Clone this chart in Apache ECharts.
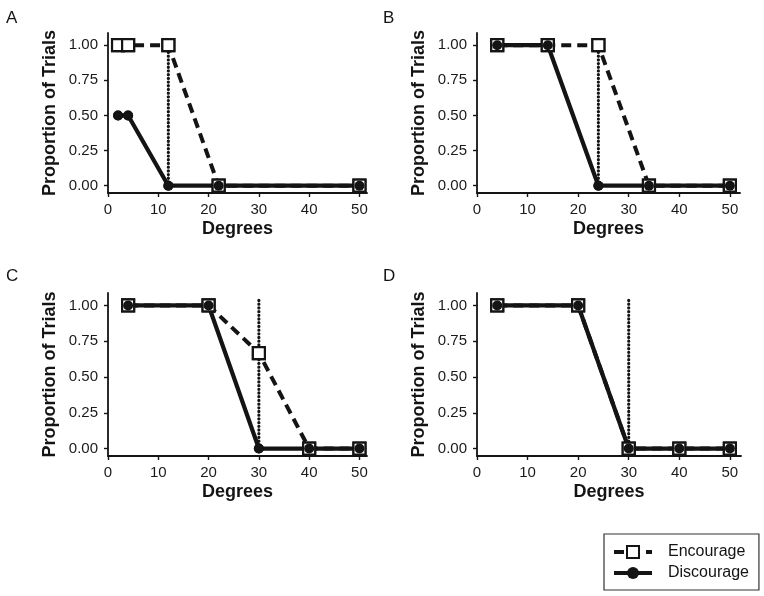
<!DOCTYPE html>
<html>
<head>
<meta charset="utf-8">
<script src="https://cdn.jsdelivr.net/npm/echarts@6/dist/echarts.min.js"></script>
<style>
  html, body { margin: 0; padding: 0; background: #fff; }
  #main { width: 764px; height: 596px; }
</style>
</head>
<body>
<div id="main"></div>
<script>
// 数据
var panelLetters = ['A', 'B', 'C', 'D'];
var degA = [2, 4, 12, 22, 50];
var degB = [4, 14, 24, 34, 50];
var degC = [4, 20, 30, 40, 50];
var degD = [4, 20, 30, 40, 50];
var encA = [1, 1, 1, 0, 0];
var disA = [0.5, 0.5, 0, 0, 0];
var encB = [1, 1, 1, 0, 0];
var disB = [1, 1, 0, 0, 0];
var encC = [1, 1, 0.667, 0, 0];
var disC = [1, 1, 0, 0, 0];
var encD = [1, 1, 0, 0, 0];
var disD = [1, 1, 0, 0, 0];
var thresholds = [12, 24, 30, 30];
var thresholdTop = 1.035;
var xTicks = [0, 10, 20, 30, 40, 50];
var yTicks = [0, 0.25, 0.5, 0.75, 1];

var degs = [degA, degB, degC, degD];
var encs = [encA, encB, encC, encD];
var diss = [disA, disB, disC, disD];

// 布局
var grids = [
    { left: 108, top: 33, width: 259, height: 160 },
    { left: 477, top: 33, width: 263, height: 160 },
    { left: 108, top: 293, width: 259, height: 163 },
    { left: 477, top: 293, width: 264, height: 163 }
];
var xMax = [51.5, 52, 51.5, 52.2];
var letterPos = [[6, 10], [383, 10], [6, 268], [383, 268]];

var ink = '#141414';
var font = 'Liberation Sans, Arial, Helvetica, sans-serif';

function pairs(xs, ys) {
    var out = [];
    for (var i = 0; i < xs.length; i++) out.push([xs[i], ys[i]]);
    return out;
}

var xAxes = [], yAxes = [], series = [], graphics = [];
for (var p = 0; p < 4; p++) {
    xAxes.push({
        type: 'value', gridIndex: p, min: 0, max: xMax[p],
        name: 'Degrees', nameLocation: 'middle', nameGap: 27,
        nameTextStyle: { fontFamily: font, fontSize: 18, fontWeight: 'bold', color: ink },
        axisLine: { show: true, onZero: false, lineStyle: { color: ink, width: 1.8 } },
        axisTick: { show: true, length: 4, customValues: xTicks, lineStyle: { color: ink, width: 1.4 } },
        axisLabel: { customValues: xTicks, margin: 9, fontFamily: font, fontSize: 15, color: '#1a1a1a' },
        splitLine: { show: false }
    });
    yAxes.push({
        type: 'value', gridIndex: p, min: -0.052, max: 1.087,
        name: 'Proportion of Trials', nameLocation: 'middle', nameGap: 49,
        nameTextStyle: { fontFamily: font, fontSize: 18, fontWeight: 'bold', color: ink },
        axisLine: { show: true, onZero: false, lineStyle: { color: ink, width: 1.8 } },
        axisTick: { show: true, length: 4, customValues: yTicks, lineStyle: { color: ink, width: 1.4 } },
        axisLabel: {
            customValues: yTicks, margin: 10, fontFamily: font, fontSize: 15, color: '#1a1a1a',
            formatter: function (v) { return v.toFixed(2); }
        },
        splitLine: { show: false }
    });
    // 阈值虚线
    series.push({
        type: 'line', name: 'threshold', xAxisIndex: p, yAxisIndex: p, z: 1,
        data: [[thresholds[p], 0], [thresholds[p], thresholdTop]],
        symbol: 'none', silent: true,
        lineStyle: { color: ink, width: 3.2, type: [0.1, 3.6], cap: 'round' }
    });
    series.push({
        type: 'line', name: 'Encourage', xAxisIndex: p, yAxisIndex: p, z: 2,
        data: pairs(degs[p], encs[p]),
        symbol: 'rect', symbolSize: 12,
        itemStyle: { color: '#fff', borderColor: ink, borderWidth: 2.2 },
        lineStyle: { color: ink, width: 4, type: [10, 6] }
    });
    series.push({
        type: 'line', name: 'Discourage', xAxisIndex: p, yAxisIndex: p, z: 2,
        data: pairs(degs[p], diss[p]),
        symbol: 'circle', symbolSize: 10,
        itemStyle: { color: ink, borderColor: ink, borderWidth: 0 },
        lineStyle: { color: ink, width: 4.2 }
    });
    // 点在线之上
    series.push({
        type: 'scatter', name: 'encPts', xAxisIndex: p, yAxisIndex: p, z: 3,
        data: pairs(degs[p], encs[p]),
        symbol: 'rect', symbolSize: 12,
        itemStyle: { color: '#fff', borderColor: ink, borderWidth: 2.2, opacity: 1 }
    });
    series.push({
        type: 'scatter', name: 'disPts', xAxisIndex: p, yAxisIndex: p, z: 4,
        data: pairs(degs[p], diss[p]),
        symbol: 'circle', symbolSize: 10,
        itemStyle: { color: ink, opacity: 1 }
    });
    graphics.push({
        type: 'text', left: letterPos[p][0], top: letterPos[p][1],
        style: { text: panelLetters[p], fontFamily: font, fontSize: 17, fill: ink }
    });
}

var chart = echarts.init(document.getElementById('main'), null, { renderer: 'canvas' });
chart.setOption({
    animation: false,
    backgroundColor: '#fff',
    grid: grids,
    xAxis: xAxes,
    yAxis: yAxes,
    series: series,
    graphic: graphics,
    legend: {
        data: ['Encourage', 'Discourage'],
        orient: 'vertical',
        left: 604, top: 534,
        padding: [10, 10, 9, 8],
        itemWidth: 38, itemHeight: 15, itemGap: 5,
        borderColor: '#333', borderWidth: 1.2,
        selectedMode: false,
        lineStyle: { width: 4 },
        textStyle: { fontFamily: font, fontSize: 16, color: ink, padding: [0, 0, 0, 11] }
    }
});
</script>
</body>
</html>
